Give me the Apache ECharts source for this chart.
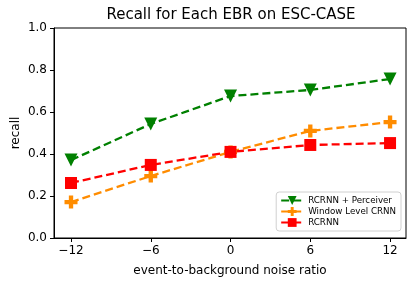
<!DOCTYPE html>
<html><head><meta charset="utf-8">
<script src="https://cdn.jsdelivr.net/npm/echarts@6/dist/echarts.min.js"></script>
<style>html,body{margin:0;padding:0;background:#fff}#c{width:415px;height:285px}</style>
</head><body><div id="c"></div>
<script>
const xValues = [-12, -6, 0, 6, 12];
const xTicks = [-12, -6, 0, 6, 12];
const yTicks = [0, 0.2, 0.4, 0.6, 0.8, 1.0];
const seriesNames = ['RCRNN + Perceiver', 'Window Level CRNN', 'RCRNN'];
const perceiver = [0.371, 0.543, 0.676, 0.705, 0.757];
const windowCrnn = [0.171, 0.295, 0.41, 0.51, 0.552];
const rcrnn = [0.262, 0.348, 0.41, 0.443, 0.452];

const font = 'DejaVu Sans';
const pair = arr => xValues.map((x, i) => [x, arr[i]]);
const fmtX = v => (v < 0 ? '\u2212' + Math.abs(v) : String(v));
function mk(name, data, color, symbol, size) {
  return {
    name, type: 'line', data: pair(data), symbol, symbolSize: size,
    itemStyle: { color }, lineStyle: { color, width: 2.3, type: [8, 4] },
    emphasis: { disabled: true }, animation: false
  };
}
const chart = echarts.init(document.getElementById('c'), null, { renderer: 'canvas' });
chart.setOption({
  animation: false,
  title: { text: 'Recall for Each EBR on ESC-CASE', left: 226, top: 3, textAlign: 'center',
    textStyle: { fontFamily: font, fontSize: 15, fontWeight: 'normal', color: '#000' } },
  grid: { left: 54, right: 9, top: 28, bottom: 47, containLabel: false, outerBoundsMode: 'none' },
  xAxis: {
    type: 'value', min: -13.28, max: 13.2,
    name: 'event-to-background noise ratio', nameLocation: 'middle', nameGap: 27,
    nameTextStyle: { fontFamily: font, fontSize: 12, color: '#000' },
    axisLine: { onZero: false, lineStyle: { color: '#000', width: 1 } },
    axisTick: { show: true, length: 4, inside: false, customValues: xTicks, lineStyle: { color: '#000' } },
    axisLabel: { customValues: xTicks, formatter: fmtX, fontFamily: font, fontSize: 12, color: '#000', margin: 7 },
    splitLine: { show: false }
  },
  yAxis: {
    type: 'value', min: 0, max: 1, interval: 0.2,
    name: 'recall', nameLocation: 'middle', nameGap: 32, nameRotate: 90, nameMoveOverlap: false,
    nameTextStyle: { fontFamily: font, fontSize: 12, color: '#000' },
    axisLine: { show: true, onZero: false, lineStyle: { color: '#000', width: 1 } },
    axisTick: { show: true, length: 4, lineStyle: { color: '#000' } },
    axisLabel: { formatter: v => v.toFixed(1), fontFamily: font, fontSize: 12, color: '#000', margin: 7 },
    splitLine: { show: false }
  },
  legend: {
    orient: 'vertical', right: 14, bottom: 54,
    data: seriesNames,
    itemWidth: 22, itemHeight: 11, itemGap: 2,
    padding: [4, 5, 4, 4],
    borderColor: '#d0d0d0', borderWidth: 1, borderRadius: 3,
    textStyle: { fontFamily: font, fontSize: 8.7, color: '#000' }
  },
  series: [
    mk(seriesNames[0], perceiver, '#008000', 'path://M0,0L2,0L1,1.8Z', 13),
    mk(seriesNames[1], windowCrnn, '#ff8c00', 'path://M2,0H4V2H6V4H4V6H2V4H0V2H2Z', 13),
    mk(seriesNames[2], rcrnn, '#ff0000', 'rect', 12)
  ],
  graphic: [{ type: 'rect', shape: { x: 54, y: 28, width: 352, height: 210 }, style: { fill: 'none', stroke: '#000', lineWidth: 1 }, silent: true, z: 0 }]
});
</script></body></html>
